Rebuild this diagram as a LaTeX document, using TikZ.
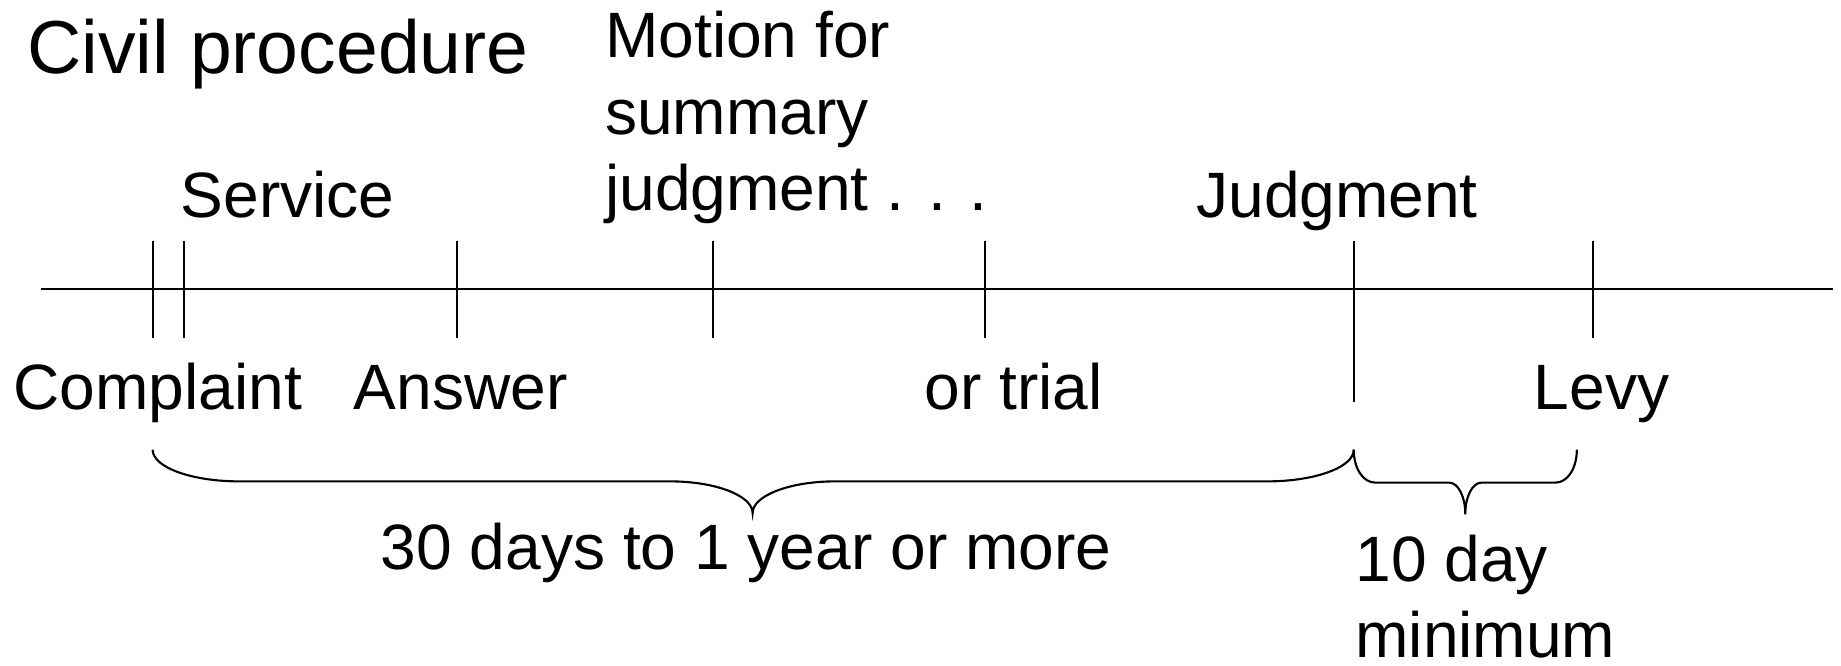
\documentclass[tikz,border=0pt]{standalone}
\usepackage{fontspec}
\setmainfont{Liberation Sans}
\tikzset{
  lbl/.style={font=\fontsize{27.3}{32.4}\selectfont, inner sep=0pt, anchor=base west},
  ttl/.style={font=\fontsize{32}{38}\selectfont, inner sep=0pt, anchor=base west},
  multi/.style={font=\fontsize{27.3}{32.4}\selectfont, inner sep=0pt, anchor=north west, align=left},
  axisline/.style={line width=0.9pt},
  tickline/.style={line width=0.9pt},
  bracepath/.style={line width=0.9pt},
}
\newcommand{\toprule}{\rule{0pt}{0.75em}}
\begin{document}
\begin{tikzpicture}[x=0.5pt,y=-0.5pt]
\useasboundingbox (0,0) rectangle (1568,567);
% title
\node[ttl] (title) at (23,63) {Civil procedure};
% upper labels
\node[multi] (motion) at (515,8) {\toprule Motion for\\summary\\judgment . . .};
\node[lbl] (service) at (153.5,185) {Service};
\node[lbl] (judgment) at (1018.5,185) {Judgment};
% lower labels
\node[lbl] (complaint) at (11,349) {Complaint};
\node[lbl] (answer) at (301,349) {Answer};
\node[lbl] (trial) at (787,349) {or trial};
\node[lbl] (levy) at (1306,349) {Levy};
\node[lbl] (period) at (324,485) {30 days to 1 year or more};
\node[multi] (minimum) at (1154,454) {\toprule 10 day\\minimum};
% timeline
\coordinate (start) at (35,246);
\coordinate (end) at (1561,246);
\draw[axisline] (start) -- (end);
% ticks
\draw[tickline] (130,205) -- (130,288);
\draw[tickline] (157,205) -- (157,288);
\draw[tickline] (389,205) -- (389,288);
\draw[tickline] (607,205) -- (607,288);
\draw[tickline] (839,205) -- (839,288);
\draw[tickline] (1153,205) -- (1153,342);
\draw[tickline] (1357,205) -- (1357,288);
% big brace
\draw[bracepath] (130,383) .. controls (130,398) and (163,410) .. (204,410)
  -- (571,410) .. controls (609,410) and (641,422) .. (641,437)
  .. controls (641,422) and (673,410) .. (711,410)
  -- (1079,410) .. controls (1120,410) and (1153,398) .. (1153,383);
% small brace
\draw[bracepath] (1153,383) .. controls (1153,399) and (1161,411) .. (1171,411)
  -- (1234,411) .. controls (1242,411) and (1248,423) .. (1248,438)
  .. controls (1248,423) and (1254,411) .. (1262,411)
  -- (1325,411) .. controls (1335,411) and (1343,399) .. (1343,383);
\end{tikzpicture}
\end{document}
